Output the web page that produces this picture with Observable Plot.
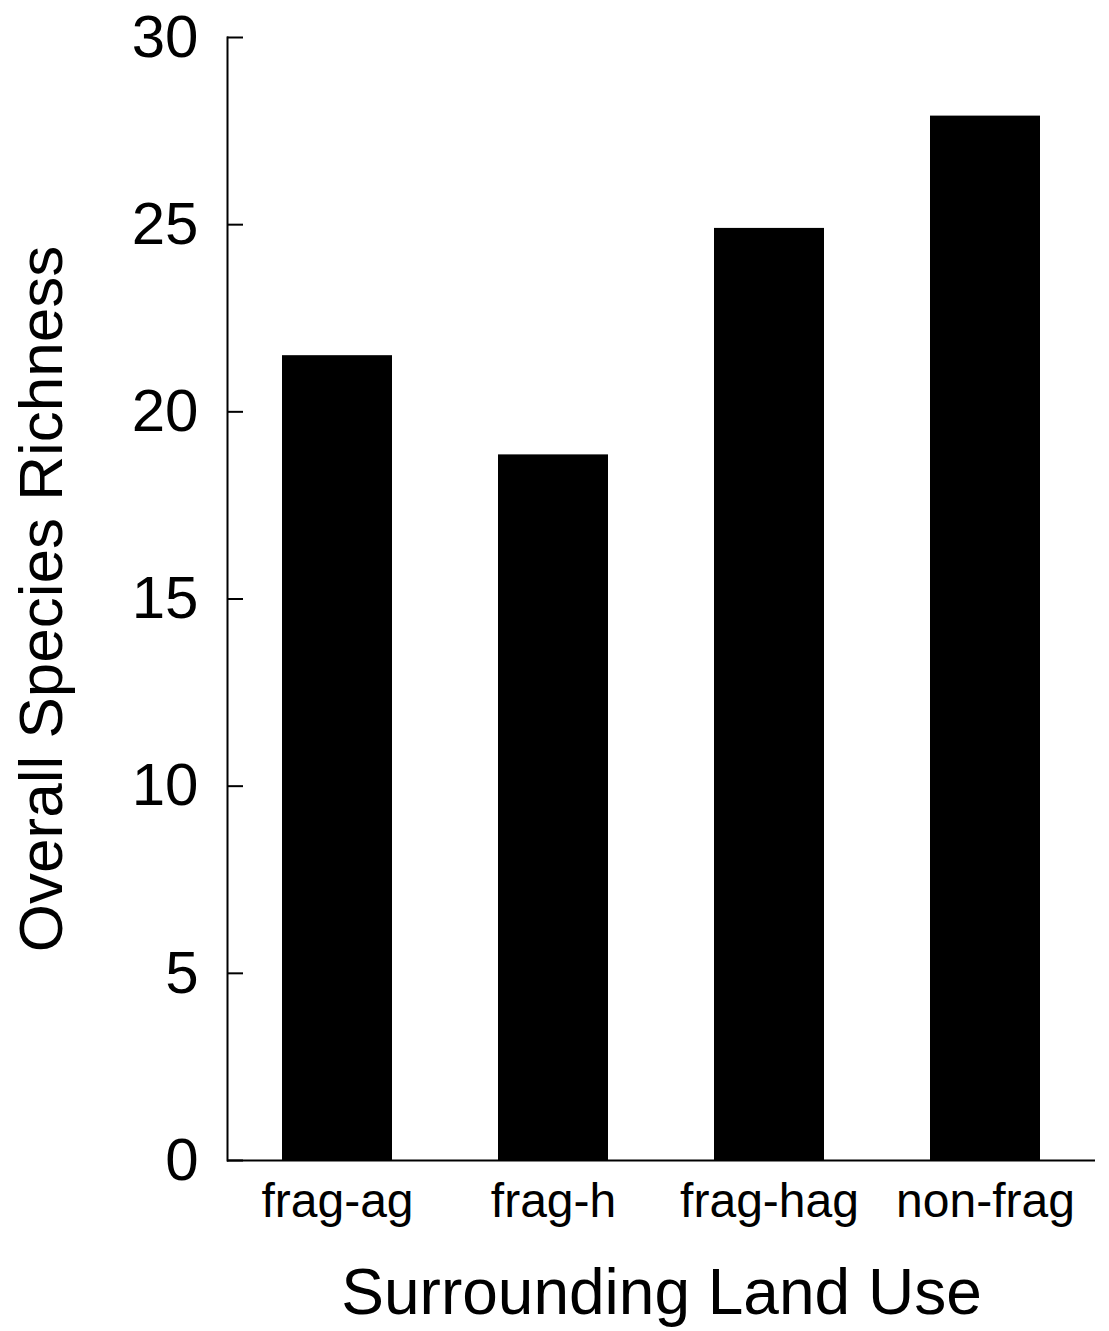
<!DOCTYPE html>
<html>
<head>
<meta charset="utf-8">
<script src="https://cdn.jsdelivr.net/npm/d3@7"></script>
<script src="https://cdn.jsdelivr.net/npm/@observablehq/plot@0.6"></script>
<style>
  html, body { margin: 0; padding: 0; background: #fff; }
  svg { display: block; }
</style>
</head>
<body>
<div id="chart"></div>
<script>
const categories = ["frag-ag", "frag-h", "frag-hag", "non-frag"];
const richness = [21.5, 18.85, 24.9, 27.9];
const yTicks = [0, 5, 10, 15, 20, 25, 30];
const yTitle = "Overall Species Richness";
const xTitle = "Surrounding Land Use";

const data = categories.map((c, i) => ({category: c, value: richness[i]}));

const W = 1109, H = 1331;
const mL = 227, mR = 14, mT = 37, mB = 171;

const chart = Plot.plot({
  width: W,
  height: H,
  marginLeft: mL,
  marginRight: mR,
  marginTop: mT,
  marginBottom: mB,
  style: {fontFamily: "'Liberation Sans', Arial, Helvetica, sans-serif", background: "#fff", color: "#000"},
  x: {domain: categories, paddingInner: 0.49, paddingOuter: 0.25, label: null},
  y: {domain: [0, 30], label: null},
  marks: [
    Plot.barY(data, {x: "category", y: "value", fill: "#000"}),
    Plot.ruleY([0], {stroke: "#000", strokeWidth: 2}),
    Plot.frame({anchor: "left", stroke: "#000", strokeWidth: 2}),
    Plot.tickY(yTicks, {y: d => d, stroke: "#000", strokeWidth: 2, insetRight: W - mL - mR - 16}),
    Plot.axisY({ticks: yTicks, tickSize: 0, tickPadding: 29, fontSize: 60, label: null}),
    Plot.axisX({tickSize: 0, tickPadding: 22, fontSize: 48, label: null}),
    Plot.text([xTitle], {frameAnchor: "bottom", dy: 133, fontSize: 64, lineAnchor: "middle", textAnchor: "middle", fill: "#000"}),
    Plot.text([yTitle], {frameAnchor: "left", dx: -185, rotate: -90, fontSize: 62, lineAnchor: "middle", textAnchor: "middle", fill: "#000"})
  ]
});
document.getElementById("chart").appendChild(chart);
</script>
</body>
</html>
